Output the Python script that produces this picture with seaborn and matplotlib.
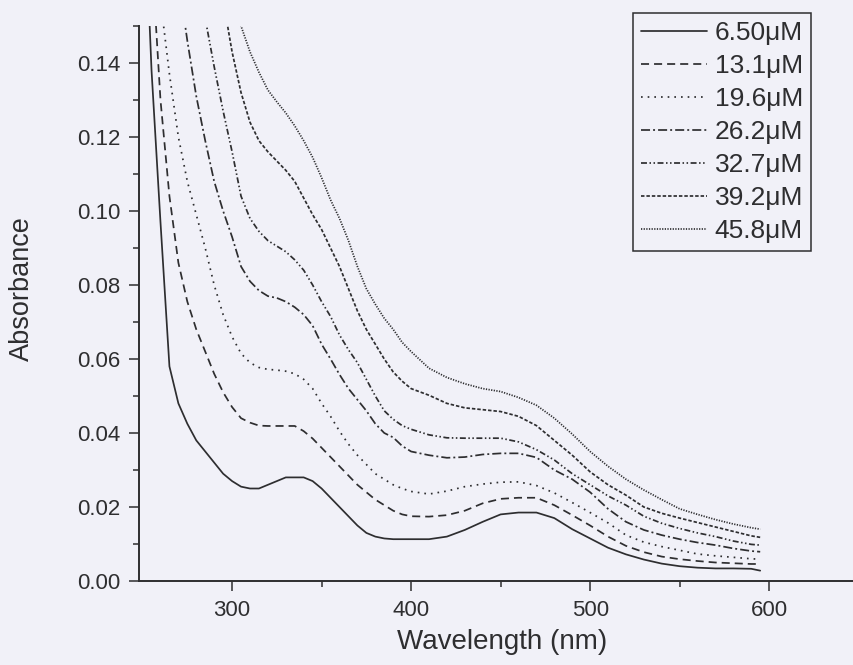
import numpy as np
import pandas as pd
import matplotlib
matplotlib.use("Agg")
import matplotlib.pyplot as plt
import seaborn as sns
from matplotlib.ticker import FixedLocator, FormatStrFormatter

nan = np.nan

# ---------------- data ----------------
wavelength = [250, 255, 260, 265, 270, 275, 280, 285, 290, 295,
              300, 305, 310, 315, 320, 325, 330, 335, 340, 345,
              350, 355, 360, 365, 370, 375, 380, 385, 390, 395,
              400, 410, 420, 430, 440, 450, 460, 470, 480, 490,
              500, 510, 520, 530, 540, 550, 560, 570, 580, 590, 595]

abs_6_50 = [0.196, 0.138, 0.097, 0.058, 0.048, 0.0425, 0.038, 0.035, 0.032, 0.029,
            0.027, 0.0255, 0.025, 0.025, 0.026, 0.027, 0.028, 0.028, 0.028, 0.027,
            0.025, 0.0225, 0.020, 0.0175, 0.015, 0.013, 0.012, 0.0115, 0.0113, 0.0113,
            0.0113, 0.0113, 0.012, 0.0138, 0.016, 0.018, 0.0185, 0.0185, 0.017, 0.014,
            0.0115, 0.009, 0.0072, 0.0058, 0.0047, 0.004, 0.0036, 0.0034, 0.0034, 0.0033, 0.0028]

abs_13_1 = [nan, 0.170, 0.130, 0.104, 0.086, 0.0755, 0.068, 0.062, 0.056, 0.051,
            0.047, 0.044, 0.0428, 0.042, 0.0419, 0.0419, 0.0419, 0.0419, 0.0405, 0.0385,
            0.036, 0.0335, 0.031, 0.0285, 0.026, 0.024, 0.022, 0.0205, 0.019, 0.018,
            0.0175, 0.0174, 0.0178, 0.019, 0.021, 0.0222, 0.0225, 0.0225, 0.0205, 0.0178,
            0.015, 0.012, 0.0095, 0.0078, 0.0066, 0.0059, 0.0054, 0.005, 0.0048, 0.0046, 0.0046]

abs_19_6 = [nan, nan, 0.157, 0.137, 0.120, 0.108, 0.099, 0.090, 0.080, 0.072,
            0.066, 0.0615, 0.059, 0.0577, 0.0572, 0.057, 0.0567, 0.056, 0.0545, 0.052,
            0.048, 0.0445, 0.0405, 0.037, 0.034, 0.0315, 0.029, 0.0275, 0.026, 0.025,
            0.0242, 0.0235, 0.0243, 0.0255, 0.0262, 0.0267, 0.0268, 0.0258, 0.0238, 0.0212,
            0.0185, 0.0157, 0.0124, 0.0105, 0.0093, 0.0083, 0.0073, 0.0068, 0.0064, 0.006, 0.0059]

abs_26_2 = [nan, nan, nan, nan, 0.163, 0.146, 0.131, 0.119, 0.108, 0.100,
            0.093, 0.085, 0.081, 0.0785, 0.077, 0.0765, 0.0755, 0.074, 0.072, 0.069,
            0.064, 0.060, 0.0558, 0.052, 0.049, 0.046, 0.0425, 0.040, 0.0388, 0.0365,
            0.035, 0.034, 0.0333, 0.0335, 0.0342, 0.0345, 0.0345, 0.0334, 0.030, 0.0275,
            0.024, 0.0195, 0.016, 0.0138, 0.0124, 0.0113, 0.0104, 0.0097, 0.0088, 0.0081, 0.0079]

abs_32_7 = [nan, nan, nan, nan, nan, nan, 0.168, 0.152, 0.139, 0.127,
            0.116, 0.104, 0.098, 0.0945, 0.092, 0.0905, 0.089, 0.0868, 0.084, 0.080,
            0.0755, 0.0715, 0.0665, 0.0625, 0.059, 0.0545, 0.050, 0.046, 0.0437, 0.042,
            0.041, 0.0395, 0.0387, 0.0386, 0.0386, 0.0386, 0.0376, 0.0355, 0.0327, 0.029,
            0.026, 0.023, 0.0205, 0.0175, 0.0156, 0.0142, 0.013, 0.012, 0.0108, 0.0099, 0.0097]

abs_39_2 = [nan, nan, nan, nan, nan, nan, nan, nan, nan, 0.157,
            0.143, 0.132, 0.124, 0.119, 0.116, 0.1135, 0.111, 0.108, 0.1035, 0.099,
            0.095, 0.090, 0.085, 0.079, 0.073, 0.068, 0.064, 0.060, 0.0565, 0.054,
            0.052, 0.0502, 0.048, 0.0468, 0.0463, 0.0458, 0.0445, 0.042, 0.038, 0.034,
            0.0295, 0.026, 0.0232, 0.020, 0.0183, 0.017, 0.0158, 0.0146, 0.0134, 0.0122, 0.0118]

abs_45_8 = [nan, nan, nan, nan, nan, nan, nan, nan, nan, nan,
            0.162, 0.150, 0.143, 0.1375, 0.1327, 0.1295, 0.1265, 0.123, 0.119, 0.1145,
            0.109, 0.103, 0.098, 0.092, 0.085, 0.079, 0.0748, 0.071, 0.068, 0.0645,
            0.062, 0.0575, 0.055, 0.0533, 0.052, 0.0512, 0.0496, 0.0475, 0.044, 0.0397,
            0.035, 0.031, 0.0275, 0.0246, 0.022, 0.0195, 0.018, 0.0166, 0.0154, 0.0144, 0.014]

concentrations = ["6.50\u03bcM", "13.1\u03bcM", "19.6\u03bcM", "26.2\u03bcM",
                  "32.7\u03bcM", "39.2\u03bcM", "45.8\u03bcM"]
series = [abs_6_50, abs_13_1, abs_19_6, abs_26_2, abs_32_7, abs_39_2, abs_45_8]

x_major = [300, 400, 500, 600]
x_minor = [350, 450, 550]
y_major = [0.00, 0.02, 0.04, 0.06, 0.08, 0.10, 0.12, 0.14]
y_minor = [0.01, 0.03, 0.05, 0.07, 0.09, 0.11, 0.13, 0.15]

# ---------------- styling ----------------
sns.set_style("ticks")
bg = "#f1f1f8"
ink = "#2e2e30"
plt.rcParams["font.family"] = ["Liberation Sans", "DejaVu Sans"]
plt.rcParams["lines.scale_dashes"] = False
plt.rcParams["text.color"] = ink
plt.rcParams["axes.labelcolor"] = ink
plt.rcParams["xtick.color"] = ink
plt.rcParams["ytick.color"] = ink

dash_styles = {
    concentrations[0]: "",
    concentrations[1]: (5.8, 3.6),
    concentrations[2]: (1.2, 3.6),
    concentrations[3]: (6.5, 2.2, 1.4, 2.2),
    concentrations[4]: (4.3, 1.8, 1.1, 1.8, 1.1, 1.8),
    concentrations[5]: (2.5, 1.4),
    concentrations[6]: (0.9, 1.0),
}

frames = []
for name, vals in zip(concentrations, series):
    frames.append(pd.DataFrame({"Wavelength": wavelength,
                                "Absorbance": vals,
                                "Concentration": name}))
df = pd.concat(frames, ignore_index=True).dropna()

fig = plt.figure(figsize=(8.54, 6.65), dpi=100, facecolor=bg)
ax = fig.add_axes([139 / 854, 84 / 665, (854 - 139) / 854, (581 - 26) / 665])
ax.set_facecolor(bg)

sns.lineplot(data=df, x="Wavelength", y="Absorbance", style="Concentration",
             style_order=concentrations, dashes=dash_styles, markers=False,
             color=ink, linewidth=1.25, estimator=None, sort=True,
             legend=False, ax=ax)

ax.set_xlim(248, 647.4)
ax.set_ylim(0, 0.15)

ax.xaxis.set_major_locator(FixedLocator(x_major))
ax.xaxis.set_minor_locator(FixedLocator(x_minor))
ax.yaxis.set_major_locator(FixedLocator(y_major))
ax.yaxis.set_minor_locator(FixedLocator(y_minor))
ax.yaxis.set_major_formatter(FormatStrFormatter("%.2f"))

ax.tick_params(which="major", direction="out", length=7.5, width=1.1,
               labelsize=16)
ax.tick_params(axis="y", which="major", pad=6)
ax.tick_params(axis="x", which="major", pad=6)
ax.tick_params(which="minor", direction="out", length=4, width=1.1)

for side in ("top", "right"):
    ax.spines[side].set_visible(False)
for side in ("left", "bottom"):
    ax.spines[side].set_linewidth(1.4)
    ax.spines[side].set_color(ink)

ax.set_xlabel("Wavelength (nm)", fontsize=20)
ax.set_ylabel("Absorbance", fontsize=19.5)
ax.xaxis.set_label_coords((502 - 139) / 715, (581 - 629) / 555)
ax.yaxis.set_label_coords((35 - 139) / 715, (581 - 289) / 555)

handles = list(ax.lines[:len(concentrations)])
leg = ax.legend(handles, concentrations, loc="upper right",
                bbox_to_anchor=(811 / 854, 1 - 13 / 665),
                bbox_transform=fig.transFigure, borderaxespad=0,
                fontsize=19, handlelength=2.5, handletextpad=0.3,
                labelspacing=0.34, borderpad=0.3, frameon=True,
                fancybox=False, shadow=False)
frame = leg.get_frame()
frame.set_edgecolor(ink)
frame.set_linewidth(1.1)
frame.set_facecolor(bg)
frame.set_alpha(1)

fig.savefig("out.png", dpi=100, facecolor=bg)
